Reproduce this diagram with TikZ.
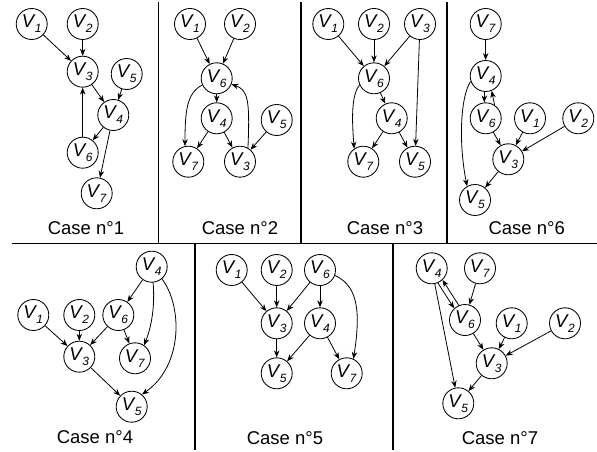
\documentclass[tikz,border=0pt]{standalone}
\usepackage{fontspec}
\setmainfont{Liberation Sans}
\usetikzlibrary{arrows.meta}
\newcommand\Vn[1]{\textit{V}\kern-0.8pt\raisebox{-0.5ex}{\fontsize{12}{12}\selectfont\textit{#1}}}
\begin{document}
\begin{tikzpicture}[x=1pt,y=-1pt,
  vn/.style={circle,draw,line width=0.85pt,minimum size=31pt,inner sep=0pt,font=\fontsize{18.5}{18.5}\selectfont},
  arr/.style={-{Stealth[length=7pt,width=5.5pt]},line width=0.8pt},
  case/.style={font=\fontsize{18.5}{18.5}\selectfont},
  sep/.style={line width=1.4pt}]
\useasboundingbox (0,0) rectangle (597,452);
% separators
\draw[sep] (158.3,2) -- (158.3,243.5);
\draw[sep] (301,2) -- (301,243.5);
\draw[sep] (447,2) -- (447,243.5);
\draw[sep] (11.7,243.5) -- (597,243.5);
\draw[sep] (195,243.5) -- (195,450);
\draw[sep] (393,243.5) -- (393,450);
% ---- Case 1
\node[vn] (a1) at (31.7,24) {\Vn{1}};
\node[vn] (a2) at (82.7,24) {\Vn{2}};
\node[vn] (a3) at (82.7,71.7) {\Vn{3}};
\node[vn] (a5) at (126.7,74) {\Vn{5}};
\node[vn] (a4) at (113.3,115) {\Vn{4}};
\node[vn] (a6) at (82.7,152.7) {\Vn{6}};
\node[vn] (a7) at (96.7,193.3) {\Vn{7}};
\node[case] (la) at (86,228) {Case n°1};
\draw[arr] (a1) -- (a3);
\draw[arr] (a2) -- (a3);
\draw[arr] (a3) -- (a4);
\draw[arr] (a5) -- (a4);
\draw[arr] (a4) -- (a6);
\draw[arr] (a4) -- (a7);
\draw[arr] (a6) -- (a3);
% ---- Case 2
\node[vn] (b1) at (190,24) {\Vn{1}};
\node[vn] (b2) at (240,24) {\Vn{2}};
\node[vn] (b6) at (216.7,78.3) {\Vn{6}};
\node[vn] (b4) at (216.7,118.3) {\Vn{4}};
\node[vn] (b5) at (276.7,120) {\Vn{5}};
\node[vn] (b7) at (188.3,161.7) {\Vn{7}};
\node[vn] (b3) at (240,161.7) {\Vn{3}};
\node[case] (lb) at (240,228) {Case n°2};
\draw[arr] (b1) -- (b6);
\draw[arr] (b2) -- (b6);
\draw[arr] (b6) -- (b4);
\draw[arr] (b4) -- (b7);
\draw[arr] (b4) -- (b3);
\draw[arr] (b5) -- (b3);
\draw[arr] (b6.205) .. controls (187,93) and (185,110) .. (b7.102);
\draw[arr] (b3.60) .. controls (250,100) and (248,90) .. (b6.-22);
% ---- Case 3
\node[vn] (c1) at (328.3,24) {\Vn{1}};
\node[vn] (c2) at (374,24) {\Vn{2}};
\node[vn] (c3) at (420,24) {\Vn{3}};
\node[vn] (c6) at (374,78.3) {\Vn{6}};
\node[vn] (c4) at (391.7,118.3) {\Vn{4}};
\node[vn] (c7) at (363.3,161.7) {\Vn{7}};
\node[vn] (c5) at (415,161.7) {\Vn{5}};
\node[case] (lc) at (385,228) {Case n°3};
\draw[arr] (c1) -- (c6);
\draw[arr] (c2) -- (c6);
\draw[arr] (c3) -- (c6);
\draw[arr] (c3) -- (c5);
\draw[arr] (c6) -- (c4);
\draw[arr] (c4) -- (c7);
\draw[arr] (c4) -- (c5);
\draw[arr] (c6.205) .. controls (353,93) and (351,110) .. (c7.125);
% ---- Case 6
\node[vn] (d7) at (485.7,24) {\Vn{7}};
\node[vn] (d4) at (485.7,76) {\Vn{4}};
\node[vn] (d6) at (485.7,118.3) {\Vn{6}};
\node[vn] (d1) at (530,118.3) {\Vn{1}};
\node[vn] (d2) at (578.3,118.3) {\Vn{2}};
\node[vn] (d3) at (508.3,159.3) {\Vn{3}};
\node[vn] (d5) at (475,200) {\Vn{5}};
\node[case] (ld) at (526.7,228) {Case n°6};
\draw[arr] (d7) -- (d4);
\draw[arr] (d4.265) -- (d6.95);
\draw[arr] (d6.56) -- (d4.292);
\draw[arr] (d6) -- (d3);
\draw[arr] (d1) -- (d3);
\draw[arr] (d2) -- (d3);
\draw[arr] (d3) -- (d5);
\draw[arr] (d4.200) .. controls (461,95) and (458,140) .. (d5.120);
% ---- Case 4
\node[vn] (e4) at (151.7,266.7) {\Vn{4}};
\node[vn] (e1) at (33.3,315) {\Vn{1}};
\node[vn] (e2) at (79.3,315) {\Vn{2}};
\node[vn] (e6) at (118.3,315) {\Vn{6}};
\node[vn] (e3) at (79.3,356.7) {\Vn{3}};
\node[vn] (e7) at (135,358.3) {\Vn{7}};
\node[vn] (e5) at (131.7,406.7) {\Vn{5}};
\node[case] (le) at (95,436.7) {Case n°4};
\draw[arr] (e1) -- (e3);
\draw[arr] (e2) -- (e3);
\draw[arr] (e6) -- (e3);
\draw[arr] (e6) -- (e7);
\draw[arr] (e4) -- (e6);
\draw[arr] (e3) -- (e5);
\draw[arr] (e4.275) .. controls (155,305) and (152,325) .. (e7.55);
\draw[arr] (e4.-50) .. controls (182,305) and (184,365) .. (e5.50);
% ---- Case 5
\node[vn] (f1) at (231.7,270) {\Vn{1}};
\node[vn] (f2) at (276.7,270) {\Vn{2}};
\node[vn] (f6) at (320,270) {\Vn{6}};
\node[vn] (f3) at (276.7,323.3) {\Vn{3}};
\node[vn] (f4) at (320,323.3) {\Vn{4}};
\node[vn] (f5) at (276.7,373.3) {\Vn{5}};
\node[vn] (f7) at (346.7,373.3) {\Vn{7}};
\node[case] (lf) at (285,438.3) {Case n°5};
\draw[arr] (f1) -- (f3);
\draw[arr] (f2) -- (f3);
\draw[arr] (f6) -- (f3);
\draw[arr] (f6) -- (f4);
\draw[arr] (f3) -- (f5);
\draw[arr] (f4) -- (f5);
\draw[arr] (f4) -- (f7);
\draw[arr] (f6.-20) .. controls (355,285) and (362,305) .. (f7.65);
% ---- Case 7
\node[vn] (g4) at (431.7,268.3) {\Vn{4}};
\node[vn] (g7) at (480,268.3) {\Vn{7}};
\node[vn] (g6) at (465,320) {\Vn{6}};
\node[vn] (g1) at (511.7,323.3) {\Vn{1}};
\node[vn] (g2) at (565,323.3) {\Vn{2}};
\node[vn] (g3) at (491.7,363.3) {\Vn{3}};
\node[vn] (g5) at (458.3,403.3) {\Vn{5}};
\node[case] (lg) at (500,438.3) {Case n°7};
\draw[arr] (g7) -- (g6);
\draw[arr] (g4.-67) -- (g6.133);
\draw[arr] (g6.113) -- (g4.-47);
\draw[arr] (g6) -- (g3);
\draw[arr] (g1) -- (g3);
\draw[arr] (g2) -- (g3);
\draw[arr] (g3) -- (g5);
\draw[arr] (g4) -- (g5);
\end{tikzpicture}
\end{document}
